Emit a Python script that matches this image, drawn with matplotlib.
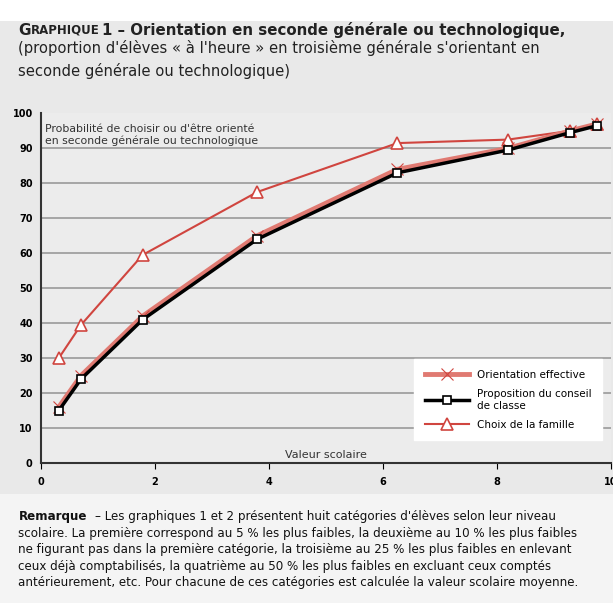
import matplotlib.pyplot as plt
from matplotlib.patches import Rectangle

# valeur scolaire moyenne de chaque catégorie
valeur = [0.31, 0.70, 1.78, 3.79, 6.25, 8.19, 9.28, 9.76]
# probabilités (%)
orientation = [16, 25, 42, 65, 84, 90, 95, 97]
conseil = [15, 24, 41, 64, 83, 89.5, 94.5, 96.5]
famille = [30, 39.5, 59.5, 77.5, 91.5, 92.5, 95, 97]

remarque = [
    "scolaire. La première correspond au 5 % les plus faibles, la deuxième au 10 % les plus faibles",
    "ne figurant pas dans la première catégorie, la troisième au 25 % les plus faibles en enlevant",
    "ceux déjà comptabilisés, la quatrième au 50 % les plus faibles en excluant ceux comptés",
    "antérieurement, etc. Pour chacune de ces catégories est calculée la valeur scolaire moyenne.",
]

fig = plt.figure(figsize=(6.13, 6.03), dpi=100)
fig.patch.set_facecolor('#e9e9e9')

# bande blanche en haut et zone de la remarque
fig.add_artist(Rectangle((0, 0.965), 1, 0.035, transform=fig.transFigure,
                         facecolor='white', edgecolor='none', zorder=0))
fig.add_artist(Rectangle((0, 0), 1, 0.18, transform=fig.transFigure,
                         facecolor='#f4f4f4', edgecolor='none', zorder=0))

ax = fig.add_axes([0.067, 0.232, 0.93, 0.58])
ax.set_facecolor('#ececec')
ax.set_xlim(0, 10)
ax.set_ylim(0, 100)
ax.set_yticks(range(0, 101, 10))
ax.set_xticks(range(0, 11, 2))
ax.tick_params(axis='y', length=0, labelsize=7, pad=6)
ax.tick_params(axis='x', direction='out', length=4, labelsize=7, pad=6)
for lab in ax.get_yticklabels() + ax.get_xticklabels():
    lab.set_fontweight('bold')
ax.yaxis.grid(True, color='#9a9a9a', linewidth=1.2)
ax.get_ygridlines()[-1].set_visible(False)
ax.set_axisbelow(True)
for s in ['top', 'right']:
    ax.spines[s].set_visible(False)
ax.spines['left'].set_color('#333333')
ax.spines['bottom'].set_color('#333333')
ax.spines['left'].set_linewidth(1.5)
ax.spines['bottom'].set_linewidth(1.5)

ax.plot(valeur, famille, color='#d0453f', linewidth=1.5, marker='^',
        markersize=9, markerfacecolor='white', markeredgecolor='#d0453f',
        markeredgewidth=1.2, label='Choix de la famille', zorder=3)
ax.plot(valeur, orientation, color='#e07a72', linewidth=3.5, marker='x',
        markersize=9, markeredgecolor='#d0453f', markeredgewidth=0.8,
        label='Orientation effective', zorder=3)
ax.plot(valeur, conseil, color='black', linewidth=2.5, marker='s',
        markersize=6, markerfacecolor='white', markeredgecolor='black',
        markeredgewidth=1.2, label='Proposition du conseil\nde classe', zorder=4)

h, l = ax.get_legend_handles_labels()
leg = ax.legend([h[1], h[2], h[0]], [l[1], l[2], l[0]], loc='lower right',
                bbox_to_anchor=(0.993, 0.05), fontsize=7.5, frameon=True,
                fancybox=False, edgecolor='white', facecolor='white',
                framealpha=1, handlelength=4.2, labelspacing=0.9,
                borderpad=1.0)

ax.text(0.07, 97, "Probabilité de choisir ou d'être orienté\nen seconde générale ou technologique",
        fontsize=7.8, va='top', ha='left', color='#333333')
ax.text(5.0, 1.0, 'Valeur scolaire', fontsize=8, ha='center', va='bottom',
        color='#333333')

fig.text(0.03, 0.95, 'G', fontsize=11, fontweight='bold', color='#222222', va='center')
fig.text(0.05, 0.95, 'RAPHIQUE', fontsize=8.5, fontweight='bold', color='#222222', va='center')
fig.text(0.166, 0.95, '1 – Orientation en seconde générale ou technologique,',
         fontsize=10.8, fontweight='bold', color='#222222', va='center')
fig.text(0.03, 0.920, "(proportion d'élèves « à l'heure » en troisième générale s'orientant en",
         fontsize=10.6, color='#222222', va='center')
fig.text(0.03, 0.882, "seconde générale ou technologique)",
         fontsize=10.6, color='#222222', va='center')

fig.text(0.03, 0.143, 'Remarque', fontsize=8.6, fontweight='bold', color='#111111', va='center')
fig.text(0.155, 0.143, "– Les graphiques 1 et 2 présentent huit catégories d'élèves selon leur niveau",
         fontsize=8.6, color='#111111', va='center')
for i, ligne in enumerate(remarque):
    fig.text(0.03, 0.116 - i * 0.0275, ligne, fontsize=8.6, color='#111111', va='center')

fig.savefig('out.png', dpi=100, facecolor=fig.get_facecolor())
